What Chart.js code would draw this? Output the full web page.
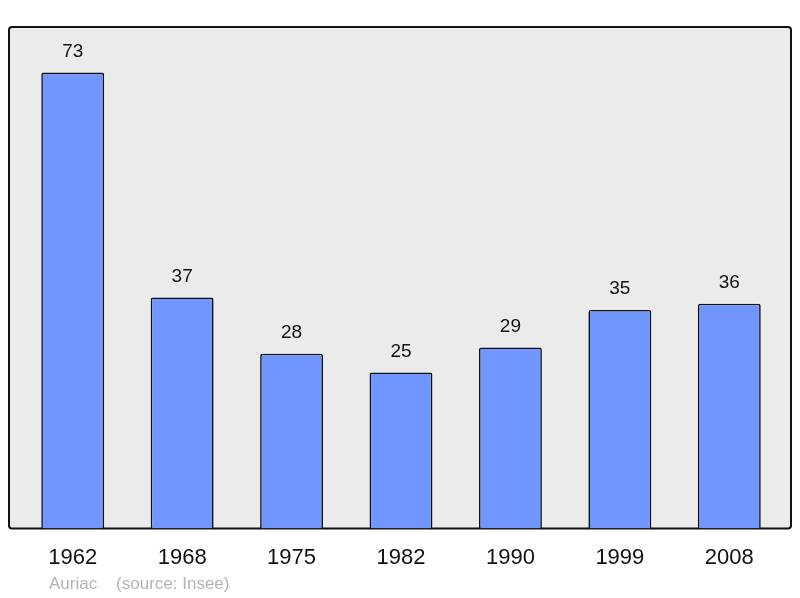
<!DOCTYPE html>
<html>
<head>
<meta charset="utf-8">
<script src="https://cdn.jsdelivr.net/npm/chart.js@4"></script>
<style>
  html, body { margin: 0; padding: 0; background: #fff; }
  #wrap { position: relative; width: 800px; height: 598px; }
  #footer {
    position: absolute; left: 49px; top: 574px;
    font: 17px 'Liberation Sans', Arial, sans-serif; color: #b4b4b4;
    white-space: pre;
  }
</style>
</head>
<body>
<div id="wrap">
  <canvas id="popChart" width="800" height="598"></canvas>
  <div id="footer">Auriac    (source: Insee)</div>
</div>
<script>
const years = ['1962', '1968', '1975', '1982', '1990', '1999', '2008'];
const population = [73, 37, 28, 25, 29, 35, 36];
const Y_MAX = 80.3;

const FONT = "'Liberation Sans', Arial, sans-serif";

// grey frame behind the bars, a bit wider than the category area
const framePlugin = {
  id: 'frame',
  beforeDraw(chart) {
    const { ctx, chartArea } = chart;
    const x0 = 9, x1 = 791;
    const y0 = chartArea.top, y1 = chartArea.bottom;
    ctx.save();
    ctx.beginPath();
    ctx.roundRect(x0, y0, x1 - x0, y1 - y0, 3);
    ctx.fillStyle = '#ebebeb';
    ctx.fill();
    ctx.lineWidth = 2;
    ctx.strokeStyle = '#111';
    ctx.stroke();
    ctx.restore();
  }
};

// numbers above each bar
const valueLabels = {
  id: 'valueLabels',
  afterDatasetsDraw(chart) {
    const { ctx } = chart;
    const meta = chart.getDatasetMeta(0);
    ctx.save();
    ctx.font = '19px ' + FONT;
    ctx.fillStyle = '#111';
    ctx.textAlign = 'center';
    ctx.textBaseline = 'middle';
    meta.data.forEach((bar, i) => {
      ctx.fillText(population[i], bar.x, bar.y - 21);
    });
    ctx.restore();
  }
};

new Chart(document.getElementById('popChart').getContext('2d'), {
  type: 'bar',
  data: {
    labels: years,
    datasets: [{
      data: population,
      backgroundColor: '#7196ff',
      borderColor: '#111',
      borderWidth: 1.6,
      borderRadius: 2,
      borderSkipped: 'bottom',
      barPercentage: 0.575,
      categoryPercentage: 1
    }]
  },
  options: {
    responsive: false,
    animation: false,
    layout: { padding: { left: 18, right: 16, top: 27, bottom: 11 } },
    scales: {
      y: { display: false, min: 0, max: Y_MAX },
      x: {
        grid: { display: false, drawTicks: false },
        border: { display: false },
        ticks: {
          color: '#111',
          padding: 16,
          font: { family: FONT, size: 22 }
        }
      }
    },
    plugins: {
      legend: { display: false },
      tooltip: { enabled: false }
    }
  },
  plugins: [framePlugin, valueLabels]
});
</script>
</body>
</html>
